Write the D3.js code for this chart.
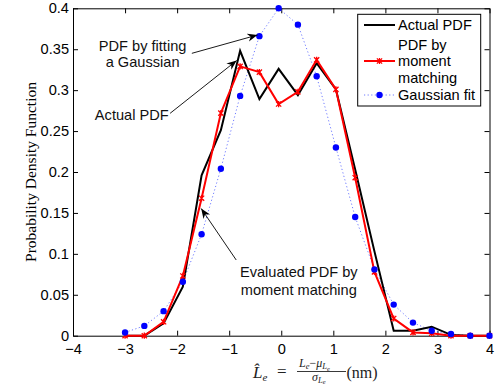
<!DOCTYPE html>
<html>
<head>
<meta charset="utf-8">
<script src="https://cdn.jsdelivr.net/npm/d3@7"></script>
<style>
  body { margin: 0; background: #fff; }
  svg text { font-family: "Liberation Sans", Arial, sans-serif; font-size: 14.6px; }
  .serif { font-family: "Liberation Serif", "Times New Roman", serif; }
</style>
</head>
<body>
<div id="chart"></div>
<script>
// bin centres (x)
const xs = [-3, -2.63, -2.26, -1.89, -1.53, -1.16, -0.79, -0.42, -0.05, 0.32,
            0.68, 1.05, 1.42, 1.79, 2.16, 2.53, 2.89, 3.26, 3.63, 4.0];
const actualPdf = [0, 0, 0.015, 0.060, 0.196, 0.251, 0.348, 0.289, 0.326, 0.294,
                   0.333, 0.301, 0.203, 0.103, 0.006, 0.006, 0.011, 0.001, 0, 0];
const momentPdf = [0, 0, 0.017, 0.073, 0.168, 0.272, 0.329, 0.322, 0.283, 0.298,
                   0.337, 0.301, 0.193, 0.078, 0.021, 0.004, 0.003, 0, 0, 0];
const gaussFit = [0.004, 0.012, 0.030, 0.066, 0.124, 0.204, 0.293, 0.366, 0.400, 0.380,
                  0.317, 0.230, 0.145, 0.081, 0.038, 0.016, 0.006, 0.002, 0, 0];
const xTicks = [-4, -3, -2, -1, 0, 1, 2, 3, 4];
const yTicks = [0, 0.05, 0.1, 0.15, 0.2, 0.25, 0.3, 0.35, 0.4];
const legendLabels = [["Actual PDF"], ["PDF by", "moment", "matching"], ["Gaussian fit"]];

const W = 501, H = 385;
const pLeft = 73, pRight = 489.5, pTop = 8.3, pBottom = 335.7;

const svg = d3.select('#chart').append('svg')
  .attr('width', W).attr('height', H);

const x = d3.scaleLinear().domain([-4, 4]).range([pLeft, pRight]);
const y = d3.scaleLinear().domain([0, 0.4]).range([pBottom, pTop]);

// axes, ticks pointing inward like matlab
const fmt = d => d3.format('')(d).replace('-', '\u2212');
svg.append('g').attr('transform', `translate(0,${pBottom})`)
  .call(d3.axisBottom(x).tickValues(xTicks).tickSize(-5).tickPadding(8).tickSizeOuter(0).tickFormat(fmt));
svg.append('g').attr('transform', `translate(${pLeft},0)`)
  .call(d3.axisLeft(y).tickValues(yTicks).tickSize(-5).tickPadding(4).tickSizeOuter(0).tickFormat(d3.format('')));
svg.append('g').attr('transform', `translate(0,${pTop})`)
  .call(d3.axisTop(x).tickValues(xTicks).tickSize(-5).tickSizeOuter(0).tickFormat(''));
svg.append('g').attr('transform', `translate(${pRight},0)`)
  .call(d3.axisRight(y).tickValues(yTicks).tickSize(-5).tickSizeOuter(0).tickFormat(''));
svg.selectAll('.tick text').attr('fill', '#000');
svg.selectAll('g').attr('font-family', null).attr('font-size', null);
svg.selectAll('.domain').attr('stroke', '#000');
svg.selectAll('.tick line').attr('stroke', '#000');

const line = d3.line().x(d => x(d[0])).y(d => y(d[1]));
const zip = arr => xs.map((v, i) => [v, arr[i]]);

// gaussian fit - dotted blue with dots
svg.append('path').datum(zip(gaussFit))
  .attr('d', line).attr('fill', 'none')
  .attr('stroke', '#3344ff').attr('stroke-opacity', 0.7)
  .attr('stroke-width', 1).attr('stroke-dasharray', '1.2,2.4');

// actual pdf
svg.append('path').datum(zip(actualPdf))
  .attr('d', line).attr('fill', 'none')
  .attr('stroke', '#000').attr('stroke-width', 2);

// moment matching
svg.append('path').datum(zip(momentPdf))
  .attr('d', line).attr('fill', 'none')
  .attr('stroke', '#ff0000').attr('stroke-width', 2);

function star(g, cx, cy, s) {
  g.append('path')
    .attr('d', `M${cx - s},${cy - s}L${cx + s},${cy + s}M${cx - s},${cy + s}L${cx + s},${cy - s}M${cx},${cy - s - 0.5}L${cx},${cy + s + 0.5}`)
    .attr('stroke', '#ff0000').attr('stroke-width', 1.3).attr('fill', 'none');
}
const redMarks = svg.append('g');
zip(momentPdf).forEach(d => star(redMarks, x(d[0]), y(d[1]), 2.6));

svg.append('g').selectAll('circle')
  .data(zip(gaussFit)).enter().append('circle')
  .attr('cx', d => x(d[0])).attr('cy', d => y(d[1]))
  .attr('r', 3.2).attr('fill', '#0000ff');

// annotations with arrows
const defs = svg.append('defs');
defs.append('marker').attr('id', 'arr')
  .attr('viewBox', '0 0 10 10').attr('refX', 10).attr('refY', 5)
  .attr('markerWidth', 10).attr('markerHeight', 10).attr('markerUnits', 'userSpaceOnUse')
  .attr('orient', 'auto')
  .append('path').attr('d', 'M0,1 L10,5 L0,9 L3,5 Z').attr('fill', '#000');

const arrows = [
  [[-1.717, 0.345], [-0.456, 0.3674]],
  [[-2.135, 0.2717], [-0.856, 0.3362]],
  [[-0.865, 0.0925], [-1.538, 0.1554]]
];
arrows.forEach(a => {
  svg.append('line')
    .attr('x1', x(a[0][0])).attr('y1', y(a[0][1]))
    .attr('x2', x(a[1][0])).attr('y2', y(a[1][1]))
    .attr('stroke', '#000').attr('stroke-width', 0.9)
    .attr('marker-end', 'url(#arr)');
});

const notes = [
  { x: -2.663, y: 0.3475, t: 'PDF by fitting' },
  { x: -2.663, y: 0.3283, t: 'a Gaussian' },
  { x: -2.871, y: 0.2632, t: 'Actual PDF' },
  { x: 0.337, y: 0.0717, t: 'Evaluated PDF by' },
  { x: 0.337, y: 0.0502, t: 'moment matching' }
];
svg.append('g').selectAll('text').data(notes).enter().append('text')
  .attr('x', d => x(d.x)).attr('y', d => y(d.y))
  .attr('text-anchor', 'middle').attr('fill', '#111').text(d => d.t);

// legend
const lg = svg.append('g');
lg.append('rect').attr('x', 357.7).attr('y', 14.3).attr('width', 123).attr('height', 91.7)
  .attr('fill', '#fff').attr('stroke', '#000').attr('stroke-width', 1);
const rowsY = [[25], [44.3, 61, 77.7], [95]];
const sampleY = [25, 61, 95];
lg.append('line').attr('x1', 364).attr('x2', 395).attr('y1', sampleY[0]).attr('y2', sampleY[0])
  .attr('stroke', '#000').attr('stroke-width', 2);
lg.append('line').attr('x1', 364).attr('x2', 395).attr('y1', sampleY[1]).attr('y2', sampleY[1])
  .attr('stroke', '#ff0000').attr('stroke-width', 2);
star(lg, 379.5, sampleY[1], 2.6);
lg.append('line').attr('x1', 364).attr('x2', 395).attr('y1', sampleY[2]).attr('y2', sampleY[2])
  .attr('stroke', '#3344ff').attr('stroke-opacity', 0.7).attr('stroke-width', 1).attr('stroke-dasharray', '1.2,2.4');
lg.append('circle').attr('cx', 379.5).attr('cy', sampleY[2]).attr('r', 3.2).attr('fill', '#0000ff');
legendLabels.forEach((lines, i) => {
  lines.forEach((t, j) => {
    lg.append('text').attr('x', 398).attr('y', rowsY[i][j]).attr('dy', '0.36em').text(t);
  });
});

// y label
svg.append('text').attr('class', 'serif')
  .attr('transform', `translate(36,${(pTop + pBottom) / 2}) rotate(-90)`)
  .attr('text-anchor', 'middle').style('font-size', '15.5px')
  .text('Probability Density Function');

// x label: L^_e = (L_e - mu_Le)/sigma_Le (nm)
const xl = svg.append('g').attr('fill', '#222');
const lhs = xl.append('text').attr('class', 'serif').attr('x', 253).attr('y', 378)
  .style('font-size', '17px');
lhs.append('tspan').style('font-style', 'italic').text('L\u0302');
lhs.append('tspan').style('font-style', 'italic').style('font-size', '11px').attr('dy', 3).text('e');
xl.append('text').attr('class', 'serif').attr('x', 277).attr('y', 377)
  .style('font-size', '17px').text('=');
xl.append('line').attr('x1', 297).attr('x2', 346).attr('y1', 371.5).attr('y2', 371.5)
  .attr('stroke', '#222').attr('stroke-width', 0.9);
const num = xl.append('text').attr('class', 'serif').attr('x', 299).attr('y', 367)
  .style('font-size', '12px');
num.append('tspan').style('font-style', 'italic').text('L');
num.append('tspan').style('font-style', 'italic').style('font-size', '8.5px').attr('dy', 2).text('e');
num.append('tspan').attr('dy', -2).text('\u2212');
num.append('tspan').style('font-style', 'italic').text('\u03BC');
num.append('tspan').style('font-style', 'italic').style('font-size', '8.5px').attr('dy', 2).text('L');
num.append('tspan').style('font-style', 'italic').style('font-size', '6.5px').attr('dy', 1.5).text('e');
const den = xl.append('text').attr('class', 'serif').attr('x', 312).attr('y', 380.5)
  .style('font-size', '12px');
den.append('tspan').style('font-style', 'italic').text('\u03C3');
den.append('tspan').style('font-style', 'italic').style('font-size', '8.5px').attr('dy', 2).text('L');
den.append('tspan').style('font-style', 'italic').style('font-size', '6.5px').attr('dy', 1.5).text('e');
xl.append('text').attr('class', 'serif').attr('x', 346.5).attr('y', 378)
  .style('font-size', '16px').text('(nm)');
</script>
</body>
</html>
